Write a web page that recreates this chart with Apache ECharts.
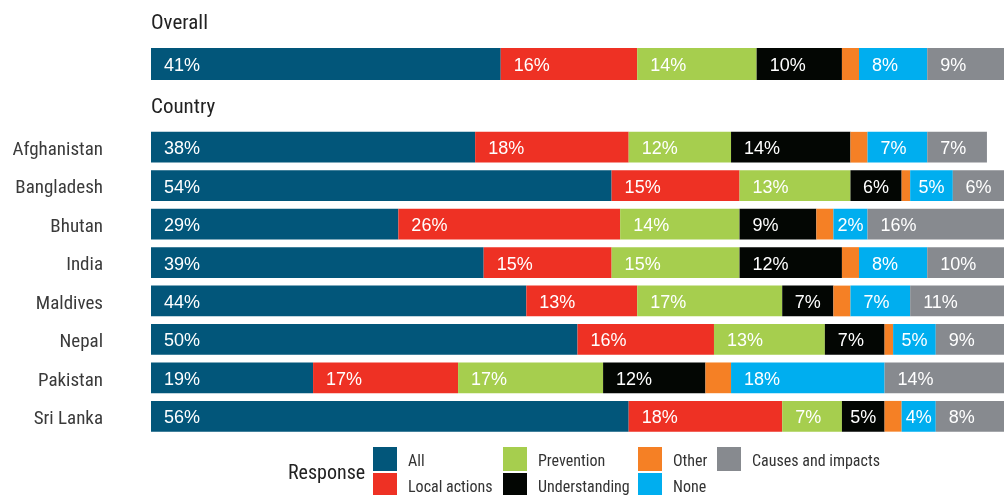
<!DOCTYPE html>
<html>
<head>
<meta charset="utf-8">
<script src="https://cdn.jsdelivr.net/npm/echarts@6/dist/echarts.min.js"></script>
<style>
  html, body { margin: 0; padding: 0; background: #fff; }
  #chart { width: 1004px; height: 495px; }
</style>
</head>
<body>
<div id="chart"></div>
<script>
// row 0 is "Overall", rows 1..8 are the countries
const countries = ['Afghanistan', 'Bangladesh', 'Bhutan', 'India', 'Maldives', 'Nepal', 'Pakistan', 'Sri Lanka']
const responses = ['All', 'Local actions', 'Prevention', 'Understanding', 'Other', 'None', 'Causes and impacts']
const colors = ['#02567a', '#ee3124', '#a6ce4e', '#030603', '#f58025', '#00aeef', '#878a8f']

// segment widths (share, %)
const allShare = [41, 38, 54, 29, 39, 44, 50, 19, 56]
const localShare = [16, 18, 15, 26, 15, 13, 16, 17, 18]
const preventionShare = [14, 12, 13, 14, 15, 17, 13, 17, 7]
const understandingShare = [10, 14, 6, 9, 12, 6, 7, 12, 5]
const otherShare = [2, 2, 1, 2, 2, 2, 1, 3, 2]
const noneShare = [8, 7, 5, 4, 8, 7, 5, 18, 4]
const causesShare = [9, 7, 6, 16, 9, 11, 8, 14, 8]

// printed percentages (rounded, so a few differ from the widths)
const allText = [41, 38, 54, 29, 39, 44, 50, 19, 56]
const localText = [16, 18, 15, 26, 15, 13, 16, 17, 18]
const preventionText = [14, 12, 13, 14, 15, 17, 13, 17, 7]
const understandingText = [10, 14, 6, 9, 12, 7, 7, 12, 5]
const otherText = null
const noneText = [8, 7, 5, 2, 8, 7, 5, 18, 4]
const causesText = [9, 7, 6, 16, 10, 11, 9, 14, 8]

const shares = [allShare, localShare, preventionShare, understandingShare, otherShare, noneShare, causesShare]
const texts = [allText, localText, preventionText, understandingText, otherText, noneText, causesText]

const condensed = "'Roboto Condensed', 'Liberation Sans Narrow', 'DejaVu Sans Condensed', Roboto, sans-serif"

let mChart = echarts.init(document.getElementById('chart'))

function makeData(values, labels) {
  return values.map((v, i) => {
    const narrow = v < 7
    return {
      value: v,
      label: labels ? {
        show: true,
        formatter: labels[i] + '%',
        position: narrow ? 'inside' : 'insideLeft',
        distance: 13
      } : {show: false}
    }
  })
}

function getSeries() {
  let series = []
  responses.forEach((name, k) => {
    const data = makeData(shares[k], texts[k])
    const common = {
      name: name,
      type: 'bar',
      itemStyle: {color: colors[k]},
      label: {
        color: '#fff',
        fontFamily: "'Liberation Sans', Arial, sans-serif",
        fontSize: 18,
        offset: [0, 2]
      },
      emphasis: {disabled: true},
      animation: false
    }
    // overall bar
    series.push(Object.assign({}, common, {
      xAxisIndex: 0,
      yAxisIndex: 0,
      stack: 'overall',
      barWidth: 32,
      data: data.slice(0, 1)
    }))
    // country bars
    series.push(Object.assign({}, common, {
      xAxisIndex: 1,
      yAxisIndex: 1,
      stack: 'country',
      barWidth: '80%',
      data: data.slice(1)
    }))
  })
  return series
}

// legend laid out column by column, one component per item
const legendSpots = [[373, 447], [373, 473], [503, 447], [503, 473], [638, 447], [638, 473], [717, 447]]
const legends = responses.map((name, k) => ({
  data: [name],
  left: legendSpots[k][0],
  top: legendSpots[k][1],
  padding: 0,
  icon: 'rect',
  itemWidth: 24,
  itemHeight: 24,
  selectedMode: false,
  formatter: '{t|{name}}',
  textStyle: {
    rich: {
      t: {
        color: '#333',
        fontSize: 16,
        fontFamily: condensed,
        padding: [5, 0, 0, 6]
      }
    }
  }
}))

const options = {
  backgroundColor: '#fff',
  grid: [
    {left: 151, top: 44, width: 854, height: 40},
    {left: 151, top: 128, width: 854, height: 307.5}
  ],
  xAxis: [
    {gridIndex: 0, type: 'value', min: 0, max: 100, show: false},
    {gridIndex: 1, type: 'value', min: 0, max: 100, show: false}
  ],
  yAxis: [
    {gridIndex: 0, type: 'category', data: ['Overall'], show: false},
    {
      gridIndex: 1,
      type: 'category',
      data: countries,
      inverse: true,
      axisLine: {show: false},
      axisTick: {show: false},
      axisLabel: {
        margin: 48,
        formatter: '{c|{value}}',
        rich: {
          c: {
            color: '#3a3a3a',
            fontSize: 19,
            fontFamily: condensed,
            padding: [6, 0, 0, 0]
          }
        }
      }
    }
  ],
  legend: legends,
  graphic: [
    {type: 'text', left: 151, top: 13, style: {text: 'Overall', fontSize: 21, fontFamily: condensed, fill: '#222'}},
    {type: 'text', left: 151, top: 97, style: {text: 'Country', fontSize: 21, fontFamily: condensed, fill: '#222'}},
    {type: 'text', left: 288, top: 464, style: {text: 'Response', fontSize: 20, fontFamily: condensed, fill: '#222'}}
  ],
  series: getSeries()
}

mChart.setOption(options)
</script>
</body>
</html>
